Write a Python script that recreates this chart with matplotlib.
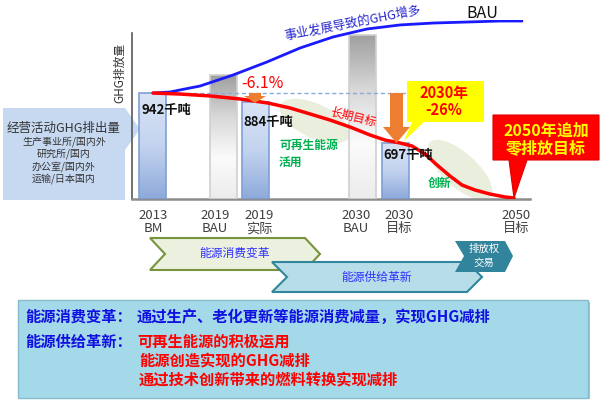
import numpy as np
import matplotlib.pyplot as plt
from matplotlib.patches import Polygon, Rectangle, Ellipse
from matplotlib.colors import LinearSegmentedColormap

plt.rcParams['font.family'] = ['Noto Sans CJK SC', 'DejaVu Sans']

# bar heights as drawn in the schematic (kt scale of the 2013 bar)
bar_heights = [942, 1100, 862, 1460, 498]
bar_kinds = ['actual', 'bau', 'actual', 'bau', 'actual']
bar_texts = ['942千吨', '', '884千吨', '', '697千吨']
tick_labels = ['2013\nBM', '2019\nBAU', '2019\n实际', '2030\nBAU', '2030\n目标', '2050\n目标']

# curves (x: px from the axis, y: level)
target_x = [21, 48, 78, 108, 136, 158, 178, 198, 218, 238, 253, 268, 280,
            293, 305, 318, 330, 343, 358, 373, 382]
target_y = [942, 933, 916, 889, 853, 809, 756, 702, 640, 569, 524, 498, 471,
            400, 302, 204, 124, 80, 44, 18, 9]
bau_x = [21, 38, 53, 68, 101, 135, 168, 201, 235, 268, 301, 335, 368, 390]
bau_y = [942, 951, 978, 1004, 1102, 1218, 1342, 1440, 1511, 1547, 1564,
         1573, 1582, 1582]

# layout
bar_pos = [20.5, 91, 123, 230.5, 263]
bar_w = 27
tick_pos = [21, 83, 127, 224, 267, 384]

W, H = 600, 401
fig = plt.figure(figsize=(6, 4.01), dpi=100)


def pixel_axes(z):
    a = fig.add_axes([0, 0, 1, 1], zorder=z)
    a.set_xlim(0, W)
    a.set_ylim(H, 0)
    a.axis('off')
    return a


bg = pixel_axes(0)
ax = fig.add_axes([132 / W, (H - 199) / H, 398 / W, 179 / H], zorder=1)
ax.patch.set_alpha(0)
top = pixel_axes(2)

# ---- background shapes
bg.add_patch(Polygon([(3, 108), (125, 108), (140, 129), (125, 150), (125, 200), (3, 200)],
                     closed=True, fc='#c6d9f1', ec='none'))
bg.add_patch(Ellipse((315, 121), 76, 34, angle=25, fc='#e9efdc', ec='none'))
bg.add_patch(Ellipse((460, 170), 82, 34, angle=42, fc='#e9efdc', ec='none'))

bg.add_patch(Polygon([(150, 238), (305, 238), (320, 254), (305, 270), (150, 270), (165, 254)],
                     closed=True, fc='#ebf1de', ec='#77933c', lw=1.5))
bg.add_patch(Polygon([(272, 262), (467, 262), (482, 277), (467, 292), (272, 292), (287, 277)],
                     closed=True, fc='#b7dee8', ec='#31859c', lw=1.5))
bg.add_patch(Polygon([(455, 241), (505, 241), (513, 256), (505, 272), (455, 272), (464, 256)],
                     closed=True, fc='#31849b', ec='none'))

bg.add_patch(Rectangle((20, 302), 570, 97, fc='#a9c3cc', ec='none'))
bg.add_patch(Rectangle((18, 300), 570, 98, fc='#a3d9e9', ec='#86bccc', lw=1))

# ---- chart
blue_cm = LinearSegmentedColormap.from_list('b', ['#d9e3f5', '#c3d3ef', '#8eaadb'])
gray_cm = LinearSegmentedColormap.from_list('g', ['#a0a0a0', '#d8d8d8', '#fbfbfb', '#ececec'])
grad = np.linspace(0, 1, 64).reshape(-1, 1)

bars = ax.bar(bar_pos, bar_heights, width=bar_w, color='none', zorder=3)
for b, kind in zip(bars, bar_kinds):
    x0, w, h = b.get_x(), b.get_width(), b.get_height()
    cm = blue_cm if kind == 'actual' else gray_cm
    im = ax.imshow(grad, cmap=cm, extent=[x0, x0 + w, 0, h], origin='upper',
                   aspect='auto', zorder=2)
    im.set_clip_path(b)
    b.set_edgecolor('#7f9fd6' if kind == 'actual' else '#d0d0d0')
    b.set_linewidth(1.2)

ax.plot([33, 278], [942, 942], color='#8eaadb', lw=1, dashes=(3, 2), zorder=4)
ax.plot(bau_x, bau_y, color='#1a1aff', lw=2, solid_capstyle='round', zorder=5)
ax.plot(target_x, target_y, color='#ff0000', lw=2.5, solid_capstyle='round', zorder=6)

ax.set_xlim(0, 398)
ax.set_ylim(0, 1591)
ax.set_yticks([])
ax.set_xticks(tick_pos, tick_labels, fontsize=9.5, color='#404040', linespacing=1.05)
ax.tick_params(axis='x', length=0, pad=7)
for s in ['top', 'right']:
    ax.spines[s].set_visible(False)
ax.spines['left'].set_bounds(0, 1476)
ax.spines['left'].set_color('#595959')
ax.spines['left'].set_linewidth(1.2)
ax.spines['bottom'].set_color('#8c8c8c')
ax.spines['bottom'].set_linewidth(1.8)

# ---- overlay: arrows, callouts, labels
orange = '#ed7d31'
top.add_patch(Polygon([(249, 93), (261, 93), (261, 96), (266, 96), (255, 103), (244, 96), (249, 96)],
                      closed=True, fc=orange, ec='none'))
top.add_patch(Polygon([(390, 93), (403, 93), (403, 127), (410, 127), (396.5, 143), (383, 127), (390, 127)],
                      closed=True, fc=orange, ec='none'))
top.add_patch(Polygon([(407, 81), (484, 81), (484, 122), (424, 122), (404, 141), (412, 122), (407, 122)],
                      closed=True, fc='#ffff00', ec='none'))
top.add_patch(Polygon([(493, 115), (599, 115), (599, 160), (527, 160), (514, 198), (509, 160), (493, 160)],
                      closed=True, fc='#ff0000', ec='#e00000', lw=0.8))

top.text(262, 83, '-6.1%', color='#ff0000', fontsize=11.5, ha='center', va='center')
for x, y, t in [(141, 110, bar_texts[0]), (243, 122, bar_texts[2]), (383, 155, bar_texts[4])]:
    top.text(x, y, t, fontsize=9.5, fontweight='bold', color='#111111', ha='left', va='center')

top.text(444, 93, '2030年', color='#ff0000', fontsize=10.5, fontweight='bold', ha='center', va='center')
top.text(444, 110, '-26%', color='#ff0000', fontsize=10.5, fontweight='bold', ha='center', va='center')
top.text(546, 131, '2050年追加', color='#ffff00', fontsize=11.5, fontweight='bold', ha='center', va='center')
top.text(546, 148, '零排放目标', color='#ffff00', fontsize=11.5, fontweight='bold', ha='center', va='center')

green = '#00b050'
top.text(279, 145, '可再生能源', color=green, fontsize=8.5, fontweight='bold', ha='left', va='center')
top.text(279, 163, '活用', color=green, fontsize=8.5, fontweight='bold', ha='left', va='center')
top.text(440, 183, '创新', color=green, fontsize=8.5, fontweight='bold', ha='center', va='center')
top.text(353, 117, '长期目标', color='#ff0000', fontsize=8.5, rotation=-14, ha='center', va='center')
top.text(353, 23, '事业发展导致的GHG增多', color='#2626d0', fontsize=9, rotation=11,
         ha='center', va='center')
top.text(482, 13, 'BAU', color='#111111', fontsize=11.5, ha='center', va='center')
top.text(120, 73, 'GHG排放量', color='#333333', fontsize=8.5, rotation=90, ha='center', va='center')

# left callout text
top.text(64, 128, '经营活动GHG排出量', color='#333333', fontsize=9, ha='center', va='center')
for y, t in zip([142, 154, 167, 179], ['生产事业所/国内外', '研究所/国内', '办公室/国内外', '运输/日本国内']):
    top.text(64, y, t, color='#333333', fontsize=7.2, ha='center', va='center')

# chevron text
top.text(235, 253, '能源消费变革', color='#3030ff', fontsize=8.5, ha='center', va='center')
top.text(377, 277, '能源供给革新', color='#3030ff', fontsize=8.5, ha='center', va='center')
top.text(484, 249, '排放权', color='white', fontsize=7.5, ha='center', va='center')
top.text(484, 263, '交易', color='white', fontsize=7.5, ha='center', va='center')

# bottom box text
blue_t, red_t = '#1010e0', '#ff0000'
top.text(25, 317, '能源消费变革：', color=blue_t, fontsize=11, fontweight='bold', va='center')
top.text(137, 317, '通过生产、老化更新等能源消费减量，实现GHG减排', color=blue_t,
         fontsize=11, fontweight='bold', va='center')
top.text(25, 342, '能源供给革新：', color=blue_t, fontsize=11, fontweight='bold', va='center')
top.text(137, 342, '可再生能源的积极运用', color=red_t, fontsize=11, fontweight='bold', va='center')
top.text(139, 361, '能源创造实现的GHG减排', color=red_t, fontsize=11, fontweight='bold', va='center')
top.text(139, 380, '通过技术创新带来的燃料转换实现减排', color=red_t, fontsize=11, fontweight='bold', va='center')

fig.savefig('out.png', dpi=100)
